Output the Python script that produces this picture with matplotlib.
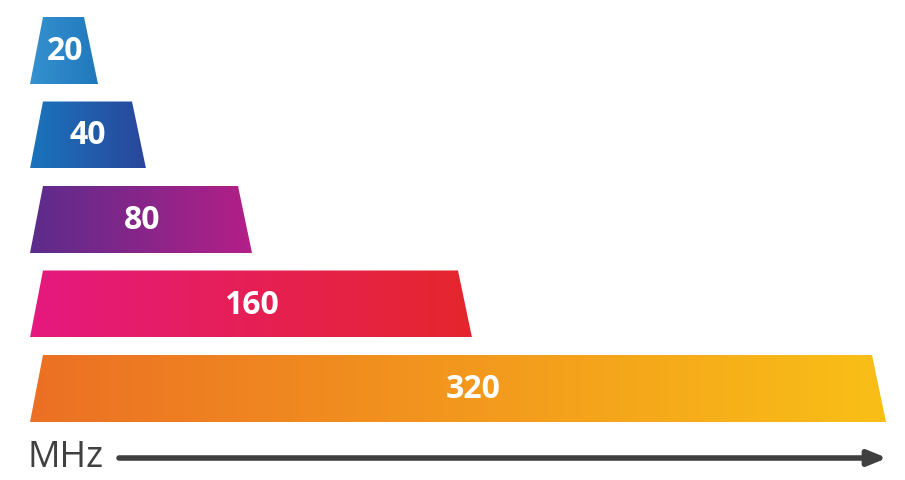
import numpy as np
import matplotlib
matplotlib.use("Agg")
import matplotlib.pyplot as plt
from matplotlib.colors import LinearSegmentedColormap
from matplotlib.patches import Polygon

# channel widths (labels) and bar lengths (pixel units)
labels = ["20", "40", "80", "160", "320"]
bar_lengths = [68, 116, 222, 442, 856]
left_colors = ["#3591D0", "#1A74BD", "#5B2C8C", "#E5197F", "#EC7024"]
right_colors = ["#2078BB", "#2A469B", "#B41F87", "#E6262C", "#F9BF17"]
axis_label = "MHz"

X0 = 30          # left edge of bars
TOP0 = 17        # top of first bar
BAR_H = 67
STEP = 84.5
INSET_L = 13
INSET_R = 14
LABEL_DX = [1, 0, 1, 0, 15]

fig = plt.figure(figsize=(9.05, 4.8), dpi=100)
ax = fig.add_axes([0, 0, 1, 1])
ax.axis("off")

grad = np.linspace(0, 1, 256).reshape(1, -1)

for i, (lab, length) in enumerate(zip(labels, bar_lengths)):
    top = TOP0 + i * STEP
    bot = top + BAR_H
    x1 = X0 + length
    pts = [(X0, bot), (X0 + INSET_L, top), (x1 - INSET_R, top), (x1, bot)]
    poly = Polygon(pts, closed=True, facecolor="none", edgecolor="none")
    ax.add_patch(poly)
    cmap = LinearSegmentedColormap.from_list(f"g{i}", [left_colors[i], right_colors[i]])
    im = ax.imshow(grad, cmap=cmap, aspect="auto", extent=(X0, x1, bot, top),
                   interpolation="bicubic", zorder=1)
    im.set_clip_path(poly)
    ax.text((X0 + x1) / 2 + LABEL_DX[i], (top + bot) / 2 + 1, lab, color="white",
            fontsize=23, fontweight="bold", family="Open Sans",
            ha="center", va="center", zorder=2)

ax.set_xlim(0, 905)
ax.set_ylim(480, 0)

# axis arrow
ax.annotate("", xy=(887, 458), xytext=(119, 458),
            arrowprops=dict(arrowstyle="-|>,head_length=1.1,head_width=0.45",
                            color="#404040", lw=4, shrinkA=0, shrinkB=0))
ax.text(27, 458, axis_label, color="#404040", fontsize=26, family="Open Sans",
        ha="left", va="center")

fig.savefig("out.png", dpi=100)
